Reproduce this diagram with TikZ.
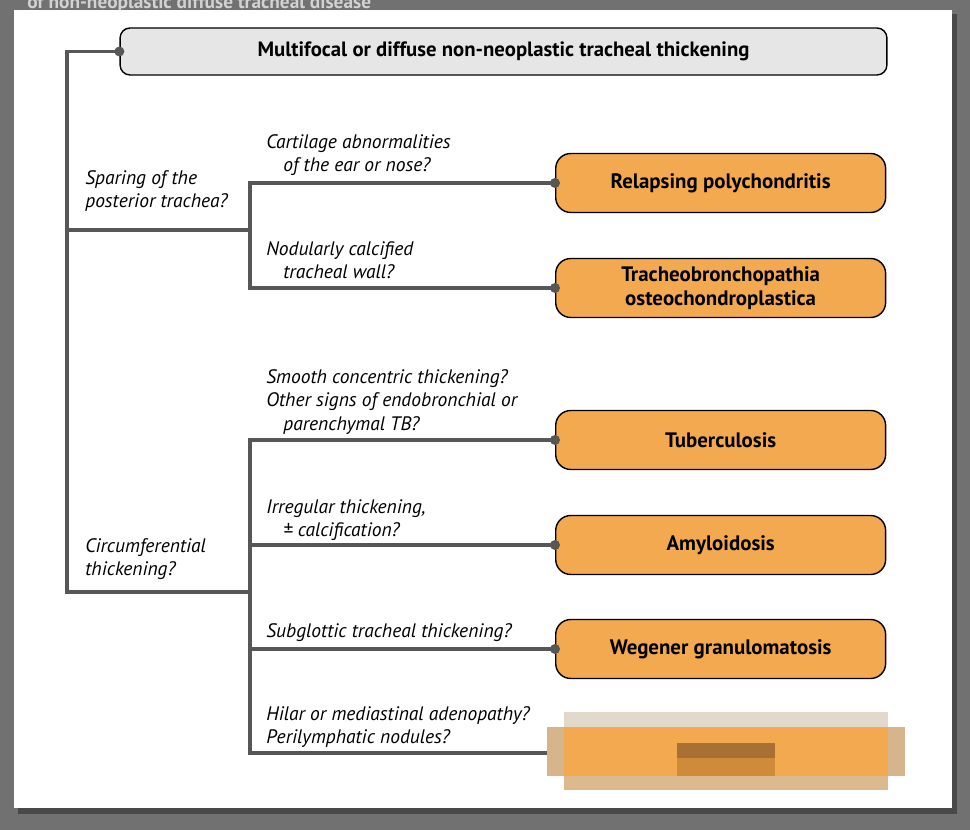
\documentclass[tikz,border=0pt]{standalone}
\usepackage{fontspec}
\setmainfont{PT Sans}
\definecolor{boxorange}{HTML}{F2A94F}
\definecolor{boxgray}{HTML}{E6E6E6}
\definecolor{linegray}{HTML}{575757}
\definecolor{bggray}{HTML}{717171}
\definecolor{blurtop}{HTML}{E2D9CC}
\definecolor{blurbottom}{HTML}{DDB98E}
\definecolor{blurside}{HTML}{D6B48C}
\definecolor{blurtext}{HTML}{A87034}
\definecolor{blurlow}{HTML}{D08B3A}
\begin{document}
\begin{tikzpicture}[x=0.02cm,y=-0.02cm,
  result/.style={draw=black,line width=0.8pt,fill=boxorange,rounded corners=0.3cm,
    minimum width=6.6cm,minimum height=1.18cm,anchor=west,align=center,
    inner sep=0pt,font=\fontsize{11.9}{13.4}\selectfont\bfseries},
  question/.style={anchor=west,align=left,inner sep=0pt,
    font=\fontsize{11.1}{13.3}\selectfont\itshape},
  link/.style={draw=linegray,line width=2.1pt}]
\useasboundingbox (0,0) rectangle (970,830);

% page on a gray screen
\fill[bggray] (0,0) rectangle (970,830);
\fill[black!35!bggray] (18,14) rectangle (957,814);
\fill[white] (14,10) rectangle (952,808);
\begin{scope}
\clip (0,0) rectangle (970,10);
\node[anchor=base west,inner sep=0pt,text=gray!35,font=\fontsize{11}{13}\selectfont\bfseries] (title) at (27,9) {of non-neoplastic diffuse tracheal disease};
\end{scope}

% boxes
\node[draw=black,line width=0.8pt,fill=boxgray,rounded corners=0.2cm,minimum width=15.34cm,minimum height=0.94cm,inner sep=0pt,font=\fontsize{11.8}{13.4}\selectfont\bfseries] (top) at (503.5,51.5) {Multifocal or diffuse non-neoplastic tracheal thickening};

\node[result] (relapsing) at (555,183) {Relapsing polychondritis};
\node[result] (tracheo) at (555,288) {Tracheobronchopathia\\osteochondroplastica};
\node[result] (tuberculosis) at (555,440) {Tuberculosis};
\node[result] (amyloidosis) at (555,545) {Amyloidosis};
\node[result] (wegener) at (555,649) {Wegener granulomatosis};

% pixelated box
\fill[blurtop] (564,712) rectangle (888,727);
\fill[blurbottom] (564,776) rectangle (888,790);
\fill[blurside] (547,727) rectangle (905,776);
\node[fill=boxorange,minimum width=6.48cm,minimum height=0.98cm,inner sep=0pt,anchor=west] (hidden) at (564,751.5) {};
\fill[blurtext] (677,743) rectangle (775,758);
\fill[blurlow] (677,758) rectangle (775,776);

% connectors
\coordinate (rootA) at (67,230);
\coordinate (rootB) at (67,592);
\coordinate (splitA) at (250,230);
\coordinate (splitB) at (250,592);
\coordinate (hiddenend) at (547,753);

\draw[link] (top.west) -| (rootB) -- (splitB);
\draw[link] (rootA) -- (splitA);
\draw[link] (relapsing.west) -| (splitA) |- (tracheo.west);
\draw[link] (tuberculosis.west) -| (splitB) |- (hiddenend);
\draw[link] (amyloidosis.west) -- (amyloidosis.west -| splitB);
\draw[link] (wegener.west) -- (wegener.west -| splitB);

\foreach \n in {top,relapsing,tracheo,tuberculosis,amyloidosis,wegener}
  \fill[linegray] (\n.west) circle (0.1cm);

% questions
\node[question] (sparing) at (85,191) {Sparing of the\\posterior trachea?};
\node[question] (circum) at (85,559) {Circumferential\\thickening?};
\node[question] (cartilage) at (266,155) {Cartilage abnormalities\\\hspace*{0.34cm}of the ear or nose?};
\node[question] (nodular) at (266,260) {Nodularly calcified\\\hspace*{0.34cm}tracheal wall?};
\node[question] (smooth) at (266,402) {Smooth concentric thickening?\\Other signs of endobronchial or\\\hspace*{0.34cm}parenchymal TB?};
\node[question] (irregular) at (266,520) {Irregular thickening,\\\hspace*{0.34cm}± calcification?};
\node[question] (subglottic) at (266,633) {Subglottic tracheal thickening?};
\node[question] (hilar) at (266,727) {Hilar or mediastinal adenopathy?\\Perilymphatic nodules?};

\end{tikzpicture}
\end{document}
